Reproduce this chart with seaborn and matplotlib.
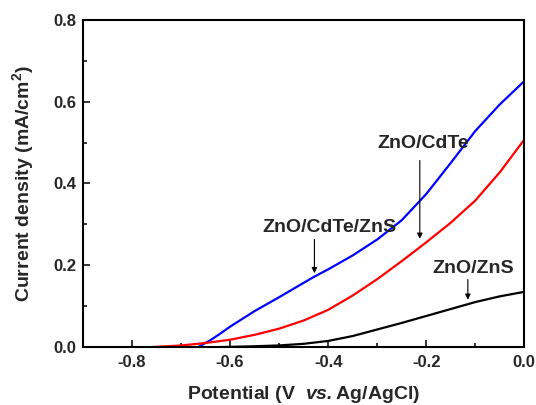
import numpy as np
import pandas as pd
import matplotlib
matplotlib.use("Agg")
import matplotlib.pyplot as plt
from matplotlib.ticker import MultipleLocator
import seaborn as sns

# values (potential in V vs Ag/AgCl, current in mA/cm2)
pot_blue = [-0.665, -0.64, -0.62, -0.60, -0.55, -0.50, -0.45, -0.43, -0.40, -0.35, -0.30,
            -0.25, -0.20, -0.15, -0.10, -0.05, 0.0]
cur_blue = [0.0, 0.017, 0.033, 0.050, 0.088, 0.122, 0.157, 0.171, 0.190, 0.224, 0.263,
            0.310, 0.374, 0.450, 0.528, 0.593, 0.650]

pot_red = [-0.76, -0.70, -0.65, -0.60, -0.55, -0.50, -0.45, -0.40, -0.35, -0.30,
           -0.25, -0.20, -0.15, -0.10, -0.05, 0.0]
cur_red = [0.0, 0.004, 0.010, 0.018, 0.030, 0.045, 0.065, 0.091, 0.126, 0.166,
           0.210, 0.256, 0.304, 0.358, 0.427, 0.507]

pot_black = [-0.62, -0.55, -0.50, -0.45, -0.40, -0.35, -0.30, -0.25, -0.20, -0.15,
             -0.10, -0.05, 0.0]
cur_black = [0.0, 0.002, 0.004, 0.008, 0.015, 0.027, 0.043, 0.059, 0.076, 0.093,
             0.110, 0.124, 0.135]

labels = ["ZnO/CdTe/ZnS", "ZnO/CdTe", "ZnO/ZnS"]
colors = ["#0000ff", "#ff0000", "#000000"]
xticks = [-0.8, -0.6, -0.4, -0.2, 0.0]
yticks = [0.0, 0.2, 0.4, 0.6, 0.8]

df = pd.concat([
    pd.DataFrame({"pot": pot_blue, "cur": cur_blue, "sample": labels[0]}),
    pd.DataFrame({"pot": pot_red, "cur": cur_red, "sample": labels[1]}),
    pd.DataFrame({"pot": pot_black, "cur": cur_black, "sample": labels[2]}),
])

sns.set_style("white")
plt.rcParams['font.family'] = ['Liberation Sans', 'DejaVu Sans']
plt.rcParams['font.weight'] = 'bold'
plt.rcParams['mathtext.fontset'] = 'custom'
plt.rcParams['mathtext.rm'] = 'Liberation Sans'
plt.rcParams['mathtext.bf'] = 'Liberation Sans:bold'
plt.rcParams['mathtext.bfit'] = 'Liberation Sans:italic:bold'
plt.rcParams['mathtext.it'] = 'Liberation Sans:italic'

fig = plt.figure(figsize=(5.36, 4.05), dpi=100)
ax = fig.add_axes([0.155, 0.143, 0.823, 0.808])

sns.lineplot(data=df, x="pot", y="cur", hue="sample", palette=dict(zip(labels, colors)),
             linewidth=1.6, legend=False, ax=ax, sort=False, estimator=None)

ax.set_xlim(-0.9, 0.0)
ax.set_ylim(0.0, 0.8)
ax.set_xticks(xticks)
ax.set_xticklabels([f"{v:.1f}" for v in xticks])
ax.set_yticks(yticks)
ax.set_yticklabels([f"{v:.1f}" for v in yticks])
ax.xaxis.set_minor_locator(MultipleLocator(0.1))
ax.yaxis.set_minor_locator(MultipleLocator(0.1))
ax.tick_params(which="both", direction="in", top=False, right=False, bottom=True, left=True,
               width=1.3, labelsize=12)
ax.tick_params(which="major", length=5)
ax.tick_params(which="minor", length=3)
ax.tick_params(axis="x", which="major", pad=6)
ax.tick_params(axis="y", which="major", pad=5)
for lab in ax.get_xticklabels() + ax.get_yticklabels():
    lab.set_fontweight("bold")
for sp in ax.spines.values():
    sp.set_linewidth(1.5)
    sp.set_color("black")

ax.set_xlabel("Potential (V  $\\bfit{vs.}$Ag/AgCl)", fontsize=14, fontweight="bold", labelpad=10)
ax.set_ylabel("Current density (mA/cm$^\\mathbf{2}$)", fontsize=14, fontweight="bold", labelpad=12)

# annotations with arrows
ax.text(-0.207, 0.487, "ZnO/CdTe", ha="center", va="baseline", fontsize=14, fontweight="bold")
ax.annotate("", xy=(-0.213, 0.258), xytext=(-0.213, 0.463),
            arrowprops=dict(arrowstyle="-|>", color="black", lw=0.8, mutation_scale=8))
ax.text(-0.398, 0.2815, "ZnO/CdTe/ZnS", ha="center", va="baseline", fontsize=14, fontweight="bold")
ax.annotate("", xy=(-0.428, 0.174), xytext=(-0.428, 0.270),
            arrowprops=dict(arrowstyle="-|>", color="black", lw=0.8, mutation_scale=8))
ax.text(-0.105, 0.182, "ZnO/ZnS", ha="center", va="baseline", fontsize=14, fontweight="bold")
ax.annotate("", xy=(-0.115, 0.109), xytext=(-0.115, 0.172),
            arrowprops=dict(arrowstyle="-|>", color="black", lw=0.8, mutation_scale=8))

fig.savefig("out.png", dpi=100)
